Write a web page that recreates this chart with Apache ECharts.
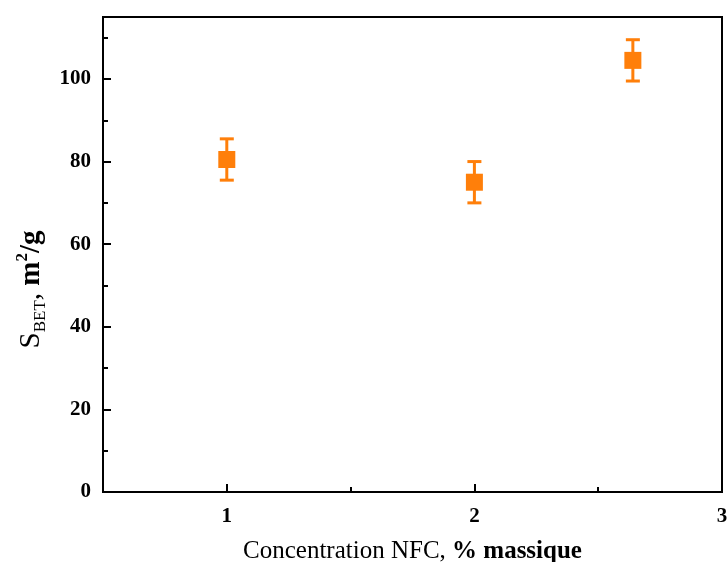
<!DOCTYPE html>
<html>
<head>
<meta charset="utf-8">
<script src="https://cdn.jsdelivr.net/npm/echarts@6/dist/echarts.min.js"></script>
<style>html,body{margin:0;padding:0;background:#fff;overflow:hidden;}#c{position:absolute;left:0;top:0;width:728px;height:562px;}</style>
</head>
<body>
<div id="c"></div>
<script>
var concentrations = [1, 2, 2.64];
var sbetValues = [80.5, 75, 104.5];
var sbetErrors = [5, 5, 5];
var xMajorTicks = [1, 2, 3];
var xMinorTicks = [1.5, 2.5];
var yMajorTicks = [0, 20, 40, 60, 80, 100];
var yMinorTicks = [10, 30, 50, 70, 90, 110];

var color = '#ff7f0a';
var font = '"Liberation Serif", "Times New Roman", serif';

var points = concentrations.map(function (x, i) { return [x, sbetValues[i]]; });
var errData = concentrations.map(function (x, i) { return [x, sbetValues[i] - sbetErrors[i], sbetValues[i] + sbetErrors[i]]; });

var chart = echarts.init(document.getElementById('c'), null, {renderer: 'canvas', width: 728, height: 562});
var baseX = {type: 'value', min: 0.5, max: 3, gridIndex: 0, splitLine: {show: false}};
var baseY = {type: 'value', min: 0, max: 115, gridIndex: 0, splitLine: {show: false}};
chart.setOption({
  animation: false,
  grid: {left: 103, right: 6, top: 17, bottom: 70, containLabel: false, outerBoundsMode: 'none', show: true, borderColor: '#000', borderWidth: 2, backgroundColor: 'transparent'},
  xAxis: [
    Object.assign({}, baseX, {
      position: 'bottom',
      axisLine: {show: true, onZero: false, lineStyle: {color: '#000', width: 2}},
      axisTick: {show: true, inside: true, length: 8, customValues: xMajorTicks, lineStyle: {color: '#000', width: 2}},
      axisLabel: {show: true, customValues: xMajorTicks, margin: 14, color: '#000', fontFamily: font, fontWeight: 'bold', fontSize: 21},
      name: '{n|Concentration NFC, }{b|% massique}',
      nameLocation: 'middle',
      nameGap: 47,
      nameTextStyle: {rich: {
        n: {fontFamily: font, fontSize: 25, color: '#000'},
        b: {fontFamily: font, fontSize: 25, fontWeight: 'bold', color: '#000'}
      }}
    }),
    Object.assign({}, baseX, {
      position: 'bottom',
      axisLine: {show: false},
      axisTick: {show: true, inside: true, length: 5, customValues: xMinorTicks, lineStyle: {color: '#000', width: 2}},
      axisLabel: {show: false}
    })
  ],
  yAxis: [
    Object.assign({}, baseY, {
      position: 'left',
      axisLine: {show: true, onZero: false, lineStyle: {color: '#000', width: 2}},
      axisTick: {show: true, inside: true, length: 8, customValues: yMajorTicks, lineStyle: {color: '#000', width: 2}},
      axisLabel: {show: true, customValues: yMajorTicks, margin: 12, color: '#000', fontFamily: font, fontWeight: 'bold', fontSize: 21},
      name: '{n|S}{sub|BET}{n|, }{b|m}{sup|2}{b|/g}',
      nameLocation: 'middle',
      nameRotate: 90,
      nameGap: 48,
      nameTextStyle: {padding: [0, 70, 0, 0], rich: {
        n: {fontFamily: font, fontSize: 29, color: '#000', lineHeight: 34},
        sub: {fontFamily: font, fontSize: 17, color: '#000', lineHeight: 17, verticalAlign: 'bottom'},
        b: {fontFamily: font, fontSize: 29, fontWeight: 'bold', color: '#000', lineHeight: 34},
        sup: {fontFamily: font, fontSize: 17, fontWeight: 'bold', color: '#000', lineHeight: 17, verticalAlign: 'top'}
      }}
    }),
    Object.assign({}, baseY, {
      position: 'left',
      axisLine: {show: false},
      axisTick: {show: true, inside: true, length: 5, customValues: yMinorTicks, lineStyle: {color: '#000', width: 2}},
      axisLabel: {show: false}
    })
  ],
  series: [
    {
      type: 'custom',
      xAxisIndex: 0, yAxisIndex: 0,
      data: errData,
      renderItem: function (params, api) {
        var x = api.value(0);
        var lo = api.coord([x, api.value(1)]);
        var hi = api.coord([x, api.value(2)]);
        var hw = 7;
        var st = {stroke: color, lineWidth: 3};
        return {type: 'group', children: [
          {type: 'line', shape: {x1: lo[0], y1: lo[1], x2: hi[0], y2: hi[1]}, style: st},
          {type: 'line', shape: {x1: lo[0] - hw, y1: lo[1], x2: lo[0] + hw, y2: lo[1]}, style: st},
          {type: 'line', shape: {x1: hi[0] - hw, y1: hi[1], x2: hi[0] + hw, y2: hi[1]}, style: st}
        ]};
      },
      z: 2
    },
    {
      type: 'scatter',
      xAxisIndex: 0, yAxisIndex: 0,
      data: points,
      symbol: 'rect',
      symbolSize: 17,
      itemStyle: {color: color, opacity: 1},
      z: 3
    }
  ]
});
</script>
</body>
</html>
